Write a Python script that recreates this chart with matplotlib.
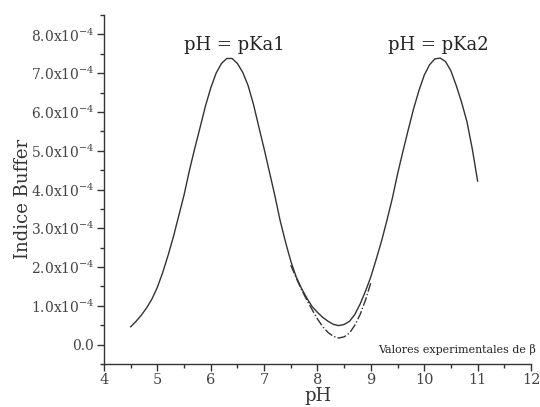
import numpy as np
import matplotlib
matplotlib.use('Agg')
import matplotlib.pyplot as plt
from matplotlib.ticker import MultipleLocator, FuncFormatter

# Indice buffer teorico (x1e-4)
ph_teo = [4.5, 4.6, 4.7, 4.8, 4.9, 5.0, 5.1, 5.2, 5.3, 5.4, 5.5, 5.6, 5.7, 5.8, 5.9,
          6.0, 6.1, 6.2, 6.3, 6.4, 6.5, 6.6, 6.7, 6.8, 6.9, 7.0, 7.1, 7.2, 7.3, 7.4,
          7.5, 7.6, 7.7, 7.8, 7.9, 8.0, 8.1, 8.2, 8.3, 8.4, 8.5, 8.6, 8.7, 8.8, 8.9,
          9.0, 9.1, 9.2, 9.3, 9.4, 9.5, 9.6, 9.7, 9.8, 9.9, 10.0, 10.1, 10.2, 10.3,
          10.4, 10.5, 10.6, 10.7, 10.8, 10.9, 11.0]
beta_teo = [0.46, 0.60, 0.76, 0.95, 1.18, 1.48, 1.86, 2.30, 2.78, 3.32, 3.86, 4.49, 5.06, 5.60, 6.15,
            6.62, 7.00, 7.25, 7.38, 7.38, 7.25, 7.02, 6.68, 6.20, 5.62, 5.05, 4.45, 3.85, 3.20, 2.65,
            2.15, 1.75, 1.45, 1.20, 0.98, 0.83, 0.70, 0.60, 0.52, 0.49, 0.52, 0.60, 0.78, 1.05, 1.38,
            1.75, 2.20, 2.67, 3.20, 3.76, 4.40, 4.98, 5.54, 6.08, 6.55, 6.95, 7.22, 7.37, 7.39,
            7.30, 7.06, 6.68, 6.25, 5.75, 5.05, 4.22]

# Valores experimentales (x1e-4)
ph_exp = [7.5, 7.6, 7.7, 7.8, 7.9, 8.0, 8.1, 8.2, 8.3, 8.4, 8.5, 8.6, 8.7, 8.8, 8.9, 9.0]
beta_exp = [2.05, 1.72, 1.42, 1.15, 0.90, 0.66, 0.46, 0.31, 0.21, 0.17, 0.20, 0.30, 0.50, 0.78, 1.15, 1.60]

plt.rcParams['font.family'] = ['DejaVu Serif']
plt.rcParams['mathtext.fontset'] = 'dejavuserif'

fig = plt.figure(figsize=(5.4, 4.07), dpi=100)
ax = fig.add_axes([0.1926, 0.1057, 0.7907, 0.8573])

ax.plot(ph_teo, np.array(beta_teo) * 1e-4, color='#333333', lw=1.0)
ax.plot(ph_exp, np.array(beta_exp) * 1e-4, color='#333333', lw=1.0, linestyle='-.')

ax.set_xlim(4, 12)
ax.set_ylim(-0.5e-4, 8.5e-4)

ax.xaxis.set_major_locator(MultipleLocator(1))
ax.xaxis.set_minor_locator(MultipleLocator(0.5))
ax.yaxis.set_major_locator(MultipleLocator(1e-4))
ax.yaxis.set_minor_locator(MultipleLocator(0.5e-4))


def fmt(v, pos):
    if abs(v) < 1e-9:
        return '0.0'
    return f'{v / 1e-4:.1f}x10$^{{-4}}$'


ax.yaxis.set_major_formatter(FuncFormatter(fmt))

for s in ['top', 'right']:
    ax.spines[s].set_visible(False)
for s in ['left', 'bottom']:
    ax.spines[s].set_color('#333333')
    ax.spines[s].set_linewidth(1.0)

ax.tick_params(which='major', direction='out', length=5, width=1, color='#333333',
               labelcolor='#444444')
ax.tick_params(axis='y', which='major', labelsize=10, pad=2)
ax.tick_params(axis='x', which='major', labelsize=10.5, pad=1.5)
ax.tick_params(which='minor', direction='out', length=3, width=1, color='#333333')

ax.set_ylabel('Indice Buffer', fontsize=13, color='#333333')
ax.yaxis.set_label_coords(-0.168, 0.473)
ax.set_xlabel('pH', fontsize=13, color='#333333')
ax.xaxis.set_label_coords(0.5, -0.066)

ax.text(6.44, 7.72e-4, 'pH = pKa1', fontsize=13, ha='center', va='center', color='#222222')
ax.text(10.27, 7.72e-4, 'pH = pKa2', fontsize=13, ha='center', va='center', color='#222222')
ax.text(12.1, -0.12e-4, 'Valores experimentales de β', fontsize=7.9, ha='right', va='center',
        color='#222222', clip_on=False)

fig.savefig('out.png', dpi=100)
